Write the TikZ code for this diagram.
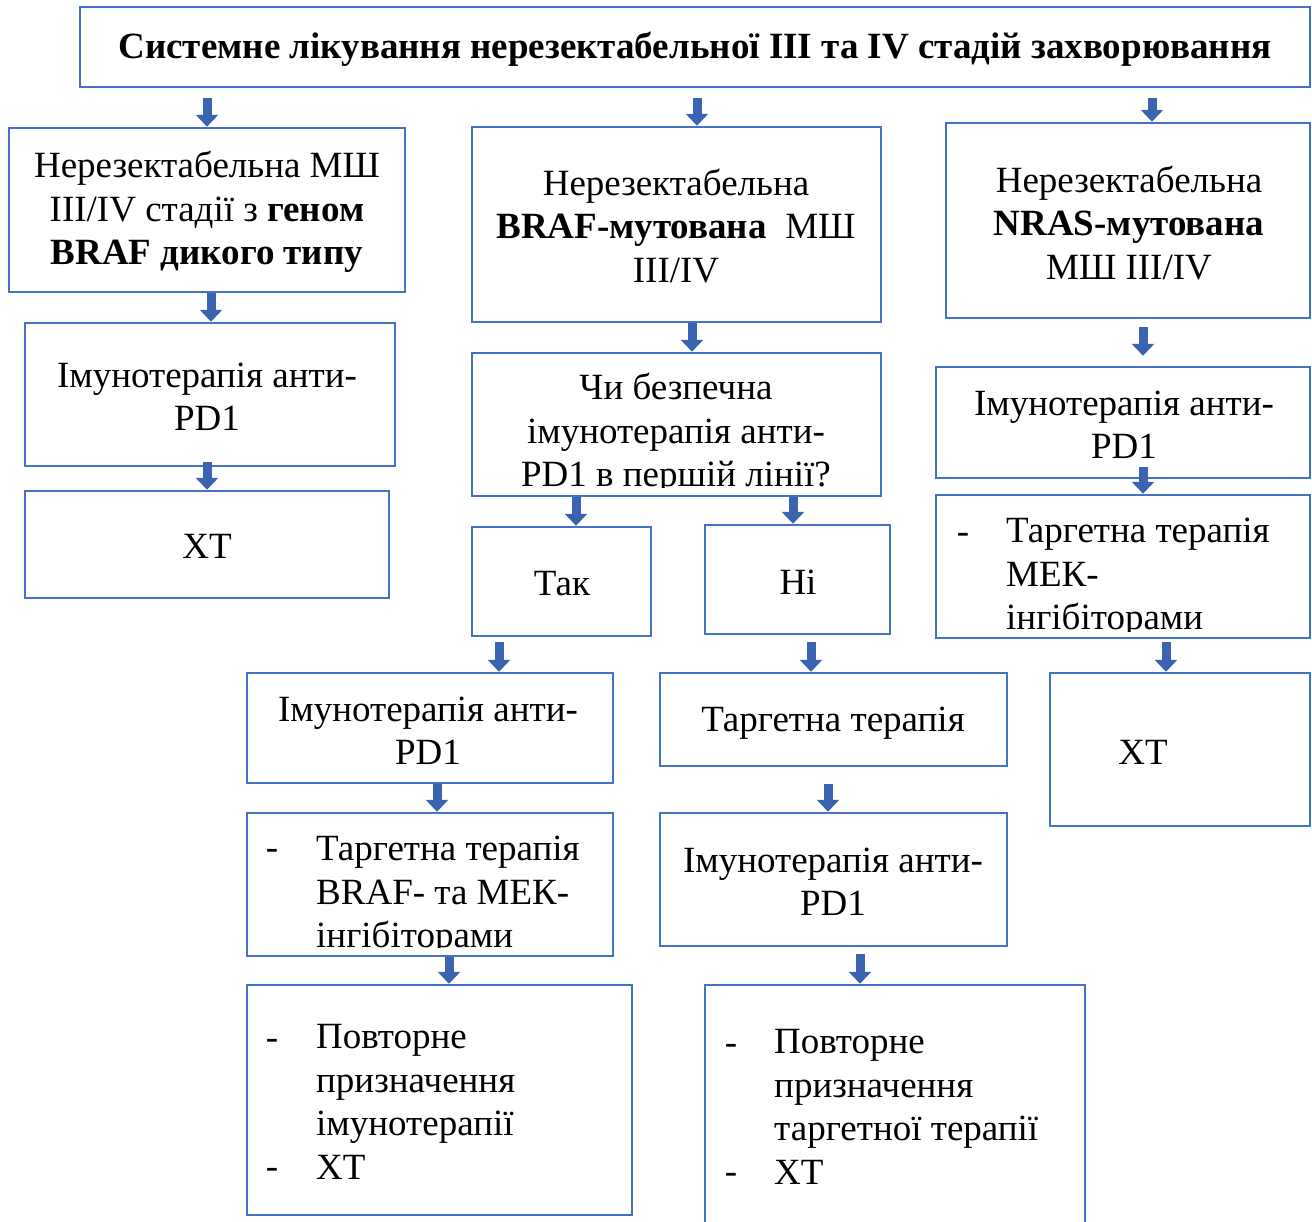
\documentclass[tikz,border=0pt]{standalone}
\usepackage{fontspec}
\setmainfont{Liberation Serif}
\usetikzlibrary{arrows.meta}
\definecolor{boxblue}{HTML}{4472C4}
\definecolor{arrblue}{HTML}{3A63B0}
\tikzset{
  boxnode/.style={draw=boxblue, line width=2.5pt, fill=white, inner sep=0pt, rectangle},
  txt/.style={font=\fontsize{37}{43.5}\selectfont, align=center, inner sep=0pt},
  ltxt/.style={font=\fontsize{37}{43.5}\selectfont, align=left, inner sep=0pt, anchor=west},
  ttl/.style={font=\fontsize{37}{40}\selectfont\bfseries, inner sep=0pt},
  barrow/.style={draw=arrblue, line width=9pt, -{Triangle[width=22pt,length=12pt]}},
}
\newcommand\mkbox[5]{\node[boxnode, minimum width={(#4-#2)*1pt}, minimum height={(#5-#3)*1pt}] (#1) at ({(#2+#4)/2},{(#3+#5)/2}) {};}
\begin{document}
\begin{tikzpicture}[x=1pt,y=-1pt]
\useasboundingbox (0,0) rectangle (1312,1221);
% boxes
\mkbox{title}{80}{7}{1310}{87}
\mkbox{L1}{9}{128}{405}{292}
\mkbox{L2}{25}{323}{395}{466}
\mkbox{L3}{25}{491}{389}{598}
\mkbox{M1}{472}{127}{881}{322}
\mkbox{M2}{472}{353}{881}{496}
\mkbox{tak}{472}{527}{651}{636}
\mkbox{ni}{705}{525}{890}{634}
\mkbox{ML1}{247}{673}{613}{783}
\mkbox{ML2}{247}{813}{613}{956}
\mkbox{ML3}{247}{985}{632}{1215}
\mkbox{MR1}{660}{673}{1007}{766}
\mkbox{MR2}{660}{813}{1007}{946}
\mkbox{MR3}{705}{985}{1085}{1240}
\mkbox{R1}{946}{123}{1310}{318}
\mkbox{R2}{936}{367}{1310}{478}
\mkbox{R3}{936}{495}{1310}{638}
\mkbox{R4}{1050}{673}{1310}{826}
% texts
\node[ttl] (tt) at (695,49) {Системне лікування нерезектабельної ІІІ та IV стадій захворювання};
\node[txt] (tL1) at (207,212) {Нерезектабельна МШ\\ІІІ/IV стадії з \textbf{геном}\\\textbf{BRAF дикого типу}};
\node[txt] (tL2) at (207,397) {Імунотерапія анти-\\PD1};
\node[txt] (tL3) at (207,546) {ХТ};
\node[txt] (tM1) at (676,226) {Нерезектабельна\\\textbf{BRAF-мутована}\ \ МШ\\ІІІ/IV};
\begin{scope}
\clip ([yshift=10pt]M2.south west) rectangle (M2.north east);
\node[txt] (tM2) at (676,434) {Чи безпечна\\імунотерапія анти-\\PD1 в першій лінії?};
\end{scope}
\node[txt] (ttak) at (562,584) {Так};
\node[txt] (tni) at (798,582) {Ні};
\node[txt] (tML1) at (428,731) {Імунотерапія анти-\\PD1};
\node[txt] (dML2) at (272,854) {-};
\begin{scope}
\clip ([yshift=10pt]ML2.south west) rectangle (ML2.north east);
\node[ltxt] (tML2) at (316,896) {Таргетна терапія\\BRAF- та МЕК-\\інгібіторами};
\end{scope}
\node[txt] (dML3a) at (272,1044) {-};
\node[txt] (dML3b) at (272,1173) {-};
\node[ltxt] (tML3) at (316,1102) {Повторне\\призначення\\імунотерапії\\ХТ};
\node[txt] (tMR1) at (833,723) {Таргетна терапія};
\node[txt] (tMR2) at (833,882) {Імунотерапія анти-\\PD1};
\node[txt] (dMR3a) at (731,1049) {-};
\node[txt] (dMR3b) at (731,1178) {-};
\node[ltxt] (tMR3) at (774,1107) {Повторне\\призначення\\таргетної терапії\\ХТ};
\node[txt] (tR1) at (1129,223) {Нерезектабельна\\\textbf{NRAS-мутована}\\МШ ІІІ/IV};
\node[txt] (tR2) at (1124,425) {Імунотерапія анти-\\PD1};
\node[txt] (dR3) at (963,538) {-};
\begin{scope}
\clip ([yshift=8pt]R3.south west) rectangle (R3.north east);
\node[ltxt] (tR3) at (1006,578) {Таргетна терапія\\МЕК-\\інгібіторами};
\end{scope}
\node[txt] (tR4) at (1143,752) {ХТ};
% arrow x positions
\coordinate (a1) at (207,0);
\coordinate (a2) at (697,0);
\coordinate (a3) at (1152,0);
\coordinate (a4) at (211,0);
\coordinate (a5) at (207,0);
\coordinate (a6) at (692,0);
\coordinate (a7) at (576,0);
\coordinate (a8) at (793,0);
\coordinate (a9) at (499,0);
\coordinate (a10) at (811,0);
\coordinate (a11) at (437,0);
\coordinate (a12) at (449,0);
\coordinate (a13) at (828,0);
\coordinate (a14) at (860,0);
\coordinate (a15) at (1143,0);
\coordinate (a16) at (1143,0);
\coordinate (a17) at (1166,0);
% arrows
\draw[barrow, shorten <=10pt] (title.south -| a1) -- (L1.north -| a1);
\draw[barrow, shorten <=10pt] (title.south -| a2) -- (M1.north -| a2);
\draw[barrow, shorten <=10pt] (title.south -| a3) -- (R1.north -| a3);
\draw[barrow] (L1.south -| a4) -- (L2.north -| a4);
\draw[barrow, shorten <=-5pt] (L2.south -| a5) -- (L3.north -| a5);
\draw[barrow] (M1.south -| a6) -- (M2.north -| a6);
\draw[barrow] (M2.south -| a7) -- (tak.north -| a7);
\draw[barrow] (M2.south -| a8) -- (ni.north -| a8);
\draw[barrow, shorten <=5pt] (tak.south -| a9) -- (ML1.north -| a9);
\draw[barrow, shorten <=7pt] (ni.south -| a10) -- (MR1.north -| a10);
\draw[barrow] (ML1.south -| a11) -- (ML2.north -| a11);
\draw[barrow] (ML2.south -| a12) -- (ML3.north -| a12);
\draw[barrow, shorten <=17pt] (MR1.south -| a13) -- (MR2.north -| a13);
\draw[barrow, shorten <=7pt] (MR2.south -| a14) -- (MR3.north -| a14);
\draw[barrow, shorten <=8pt, shorten >=10pt] (R1.south -| a15) -- (R2.north -| a15);
\draw[barrow, shorten <=-12pt] (R2.south -| a16) -- (R3.north -| a16);
\draw[barrow, shorten <=3pt] (R3.south -| a17) -- (R4.north -| a17);
\end{tikzpicture}
\end{document}
